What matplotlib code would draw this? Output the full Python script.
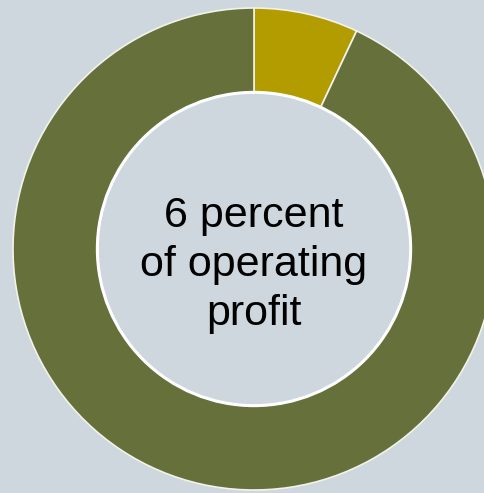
import matplotlib.pyplot as plt

labels = ["Share", "Rest"]
values = [7, 93]
colors = ["#b39c00", "#66703a"]
center_text = "6 percent\nof operating\nprofit"

bg = "#cdd7dd"
W, H = 484, 493
cx, cy, R = 254, 249, 241  # pixels, from top-left

fig = plt.figure(figsize=(W / 100, H / 100), dpi=100, facecolor=bg)
ax = fig.add_axes([0, 0, 1, 1])
ax.set_facecolor(bg)

ax.pie(values, colors=colors, startangle=90, counterclock=False, radius=1,
       wedgeprops=dict(width=0.35, edgecolor="#f2f2ea", linewidth=1.2))

# white ring round the hole
hole = plt.Circle((0, 0), 0.65, facecolor="none", edgecolor="white", linewidth=2.2)
ax.add_patch(hole)

ax.text(0, -16 / R, center_text, ha="center", va="center", fontsize=31,
        family="Liberation Sans", linespacing=1.28)

ax.set_xlim(-cx / R, (W - cx) / R)
ax.set_ylim(-(H - cy) / R, cy / R)
ax.set_aspect("equal")
ax.axis("off")

fig.savefig("out.png", dpi=100, facecolor=bg)
